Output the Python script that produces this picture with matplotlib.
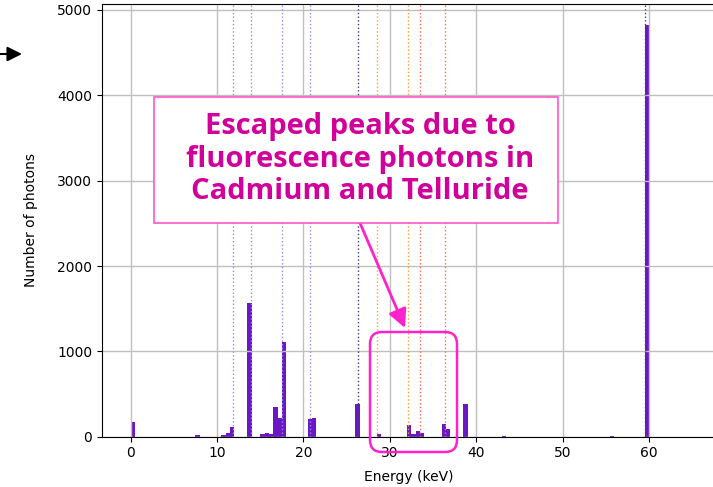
import matplotlib
matplotlib.use("Agg")
import matplotlib.pyplot as plt
import numpy as np
from matplotlib.patches import Rectangle, FancyBboxPatch

# ---- data ----
bin_left_kev = [0, 7.5, 10.5, 11, 11.5, 13.5, 15, 15.5, 16, 16.5, 17, 17.5,
                20.5, 21, 26, 28.5, 32, 32.5, 33, 33.5, 36, 36.5, 38.5,
                43, 55.5, 59.5]
photon_counts = [170, 15, 20, 40, 110, 1570, 30, 47, 30, 350, 215, 1113,
                 203, 215, 380, 35, 137, 35, 67, 40, 150, 90, 380,
                 10, 10, 4826]
bin_width = 0.5
np_l_lines = [11.89, 13.9, 17.55, 20.8]       # Np L lines
am_gamma_lines = [26.34, 59.54]               # Am-241 gamma lines
te_escape_lines = [28.55, 32.07]              # Te escape peaks
cd_escape_lines = [33.45, 36.37]              # Cd escape peaks
annotation_text = "Escaped peaks due to\nfluorescence photons in\nCadmium and Telluride"

W, H, DPI = 713, 487, 100
fig = plt.figure(figsize=(W / DPI, H / DPI), dpi=DPI)

def fx(px):
    return px / W

def fy(py):
    return (H - py) / H

ax = fig.add_axes([fx(102), fy(436.7), fx(716) - fx(102), fy(4) - fy(436.7)])

edges = np.arange(0, 67.0, bin_width)
centers = np.array(bin_left_kev) + bin_width / 2
ax.hist(centers, bins=edges, weights=photon_counts, color="#6c16c6")

for e in np_l_lines:
    ax.axvline(e, color="#8f8ff0", ls=":", lw=1)
for e in am_gamma_lines:
    ax.axvline(e, color="#3b3b88", ls=":", lw=1)
for e in te_escape_lines:
    ax.axvline(e, color="#ff9a3c", ls=":", lw=1)
for e in cd_escape_lines:
    ax.axvline(e, color="#ff6a4a", ls=":", lw=1)

ax.set_xlim(-3.32, 67.75)
ax.set_ylim(0, 5070)
ax.set_xticks([0, 10, 20, 30, 40, 50, 60])
ax.set_yticks([0, 1000, 2000, 3000, 4000, 5000])
ax.grid(True, color="#c0c0c0", lw=1.0)
ax.set_xlabel("Energy (keV)", labelpad=7)
ax.set_ylabel("Number of photons", labelpad=14)

# text box
tr = fig.dpi_scale_trans
fig.patches.append(Rectangle((154 / DPI, (H - 223) / DPI), (558 - 154) / DPI,
                             (223 - 97) / DPI, transform=tr, facecolor="white",
                             edgecolor="#ff55cc", lw=1.2, zorder=5))
fig.text(fx(360), fy(159), annotation_text, ha="center", va="center",
         fontsize=21, fontweight="bold", color="#d1009a",
         family=["Open Sans", "DejaVu Sans"], linespacing=1.15, zorder=6)

# rounded highlight box
fig.patches.append(FancyBboxPatch((370 / DPI, (H - 452) / DPI), (457 - 370) / DPI,
                                  (452 - 332) / DPI, transform=tr,
                                  boxstyle="round,pad=0,rounding_size=0.12",
                                  facecolor="none", edgecolor="#ff22cc", lw=1.8,
                                  zorder=6))

# magenta arrow
fig.add_artist(plt.matplotlib.text.Annotation(
    "", xy=(405, H - 328), xytext=(360, H - 223),
    xycoords="figure pixels", textcoords="figure pixels",
    arrowprops=dict(arrowstyle="-|>", color="#ff22cc", lw=2, mutation_scale=28,
                    shrinkA=0, shrinkB=0)))

# black arrow at left
fig.add_artist(plt.matplotlib.text.Annotation(
    "", xy=(22, H - 54), xytext=(-10, H - 54),
    xycoords="figure pixels", textcoords="figure pixels",
    arrowprops=dict(arrowstyle="-|>", color="black", lw=1.5, mutation_scale=22,
                    shrinkA=0, shrinkB=0)))

fig.savefig("out.png", dpi=DPI)
